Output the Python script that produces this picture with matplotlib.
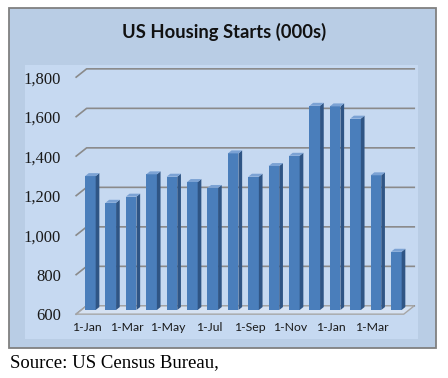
import matplotlib
matplotlib.use('Agg')
import matplotlib.pyplot as plt
from matplotlib.patches import Polygon, Rectangle
from matplotlib.transforms import ScaledTranslation

# monthly housing starts, thousands
months = ['1-Jan', '1-Feb', '1-Mar', '1-Apr', '1-May', '1-Jun', '1-Jul', '1-Aug',
          '1-Sep', '1-Oct', '1-Nov', '1-Dec', '1-Jan', '1-Feb', '1-Mar', '1-Apr']
starts = [1278, 1143, 1174, 1287, 1275, 1248, 1218, 1393,
          1275, 1329, 1381, 1634, 1631, 1569, 1282, 895]
yticks = [600, 800, 1000, 1200, 1400, 1600, 1800]

W, H = 448, 378
fig = plt.figure(figsize=(W / 100, H / 100), dpi=100)
fig.patch.set_facecolor('white')


def box(x0, y0, x1, y1, **kw):
    # rectangle given in pixels from the top-left corner
    fig.add_artist(Rectangle((x0 / W, 1 - y1 / H), (x1 - x0) / W, (y1 - y0) / H,
                             transform=fig.transFigure, zorder=-5, **kw))


box(9, 8, 436, 348, facecolor='#B9CDE5', edgecolor='#808080', lw=1.3)
box(25, 65, 418, 339, facecolor='#C6D9F1', edgecolor='none')

ax = fig.add_axes([81.4 / W, 1 - 310 / H, (409 - 81.4) / W, 237 / H])
ax.set_xlim(-0.44, 15.62)
ax.set_ylim(600, 1800)
ax.patch.set_visible(False)
for s in ax.spines.values():
    s.set_visible(False)

dx, dy = 0.257, 21   # half depth of the 3d box
bx, by = 0.18, 15    # depth of one bar
w = 0.52
xl, xr = ax.get_xlim()

# back wall gridlines with the little diagonal on the side wall
for t in yticks:
    ax.plot([xl - dx, xl + dx, xr + dx], [t - dy, t + dy, t + dy],
            color='#8A8A8A', lw=1.2, clip_on=False, zorder=1)

# floor
ax.add_patch(Polygon([(xl - dx, 600 - dy), (xr - dx, 600 - dy), (xr + dx, 600 + dy), (xl + dx, 600 + dy)],
                     closed=True, facecolor='#D6E2F2', edgecolor='#A6A6A6', lw=1,
                     clip_on=False, zorder=2))

x = list(range(len(starts)))
ax.bar(x, [v - 600 for v in starts], bottom=600, width=w, color='#4A7EBB', zorder=3)
for i, v in zip(x, starts):
    ax.add_patch(Polygon([(i + w / 2, 600), (i + w / 2 + bx, 600 + by), (i + w / 2 + bx, v + by), (i + w / 2, v)],
                         closed=True, facecolor='#2F5585', edgecolor='none', zorder=3, clip_on=False))
    ax.add_patch(Polygon([(i - w / 2, v), (i + w / 2, v), (i + w / 2 + bx, v + by), (i - w / 2 + bx, v + by)],
                         closed=True, facecolor='#7BA2D4', edgecolor='none', zorder=3, clip_on=False))

ax.set_yticks(yticks, labels=[f'{t:,}' for t in yticks])
ax.tick_params(axis='y', length=0, pad=14.7, labelsize=12, labelcolor='#1A1A1A')
for lab in ax.get_yticklabels():
    lab.set_family('Liberation Serif')
    lab.set_transform(lab.get_transform() + ScaledTranslation(0, -0.0415, fig.dpi_scale_trans))

ax.set_xticks(x[::2], labels=months[::2])
ax.tick_params(axis='x', length=0, pad=8.5, labelsize=8.8, labelcolor='#1A1A1A')
for lab in ax.get_xticklabels():
    lab.set_family('Lato')
    lab.set_transform(lab.get_transform() + ScaledTranslation(-0.04, 0, fig.dpi_scale_trans))

fig.text(0.5, 1 - 32 / H, 'US Housing Starts (000s)', ha='center', va='center',
         fontsize=13.2, fontweight='bold', family='Lato', color='#111111')
fig.text(10 / W, 1 - 366.7 / H, 'Source: US Census Bureau,', ha='left', va='baseline',
         fontsize=13.5, family='Liberation Serif', color='black')

fig.savefig('out.png', dpi=100)
